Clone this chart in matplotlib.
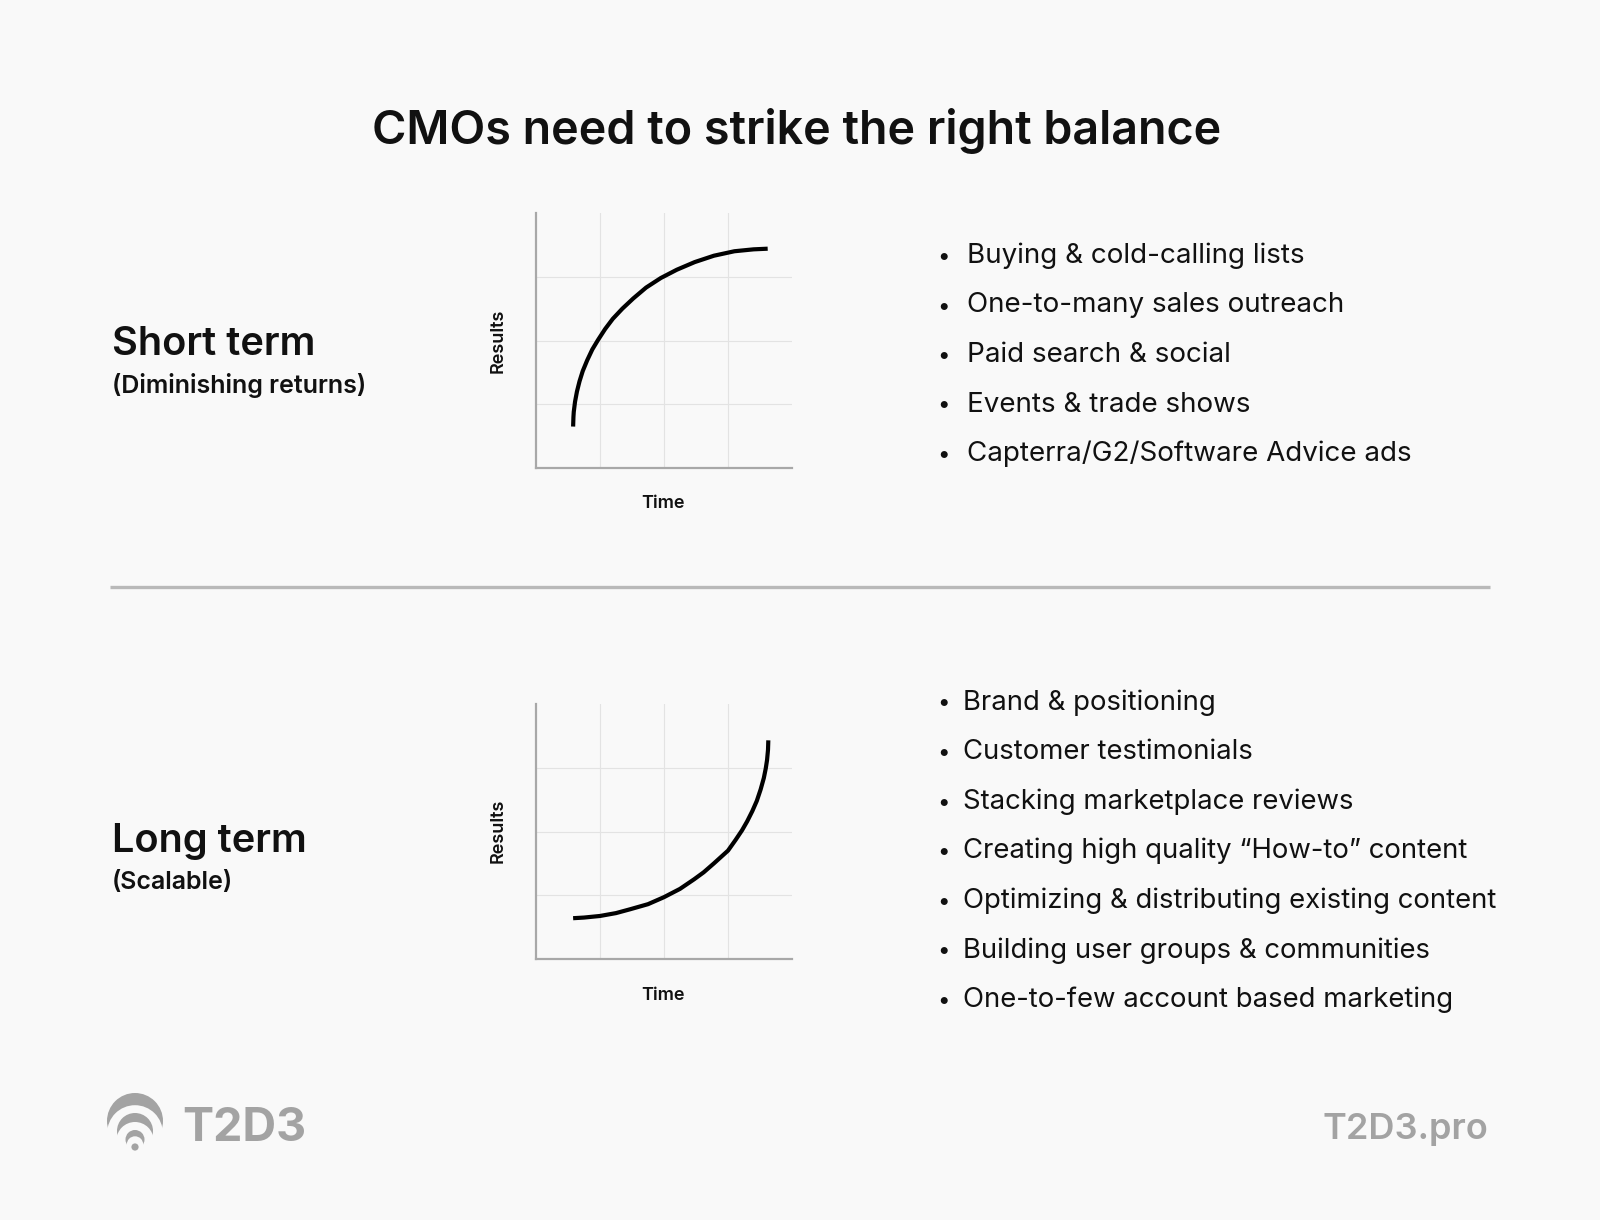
import numpy as np
import matplotlib.pyplot as plt
from matplotlib.patches import Circle

plt.rcParams['font.family'] = ['Inter', 'DejaVu Sans']

BG = '#f9f9f9'
GREY_TXT = '#a3a3a3'
INK = '#111111'

title = "CMOs need to strike the right balance"

# short term curve (diminishing returns)
short_x = [0.58, 0.585, 0.59, 0.61, 0.64, 0.68, 0.73, 0.80, 0.88, 0.97, 1.08,
           1.20, 1.35, 1.52, 1.72, 1.95, 2.20, 2.48, 2.78, 3.10, 3.40, 3.62]
short_y = [0.65, 0.80, 0.88, 1.04, 1.20, 1.36, 1.52, 1.69, 1.86, 2.01, 2.18,
           2.34, 2.50, 2.66, 2.83, 2.98, 3.11, 3.23, 3.33, 3.40, 3.43, 3.44]

# long term curve (scalable)
long_x = [0.58, 0.75, 1.00, 1.25, 1.47, 1.75, 2.00, 2.25, 2.47, 2.62, 2.78,
          3.00, 3.12, 3.22, 3.30, 3.38, 3.45, 3.51, 3.56, 3.59, 3.61, 3.625, 3.63]
long_y = [0.64, 0.65, 0.675, 0.72, 0.78, 0.86, 0.97, 1.10, 1.25, 1.36, 1.50,
          1.70, 1.87, 2.02, 2.16, 2.32, 2.48, 2.66, 2.84, 2.99, 3.12, 3.28, 3.43]

short_items = ["Buying & cold-calling lists",
               "One-to-many sales outreach",
               "Paid search & social",
               "Events & trade shows",
               "Capterra/G2/Software Advice ads"]
long_items = ["Brand & positioning",
              "Customer testimonials",
              "Stacking marketplace reviews",
              "Creating high quality \u201cHow-to\u201d content",
              "Optimizing & distributing existing content",
              "Building user groups & communities",
              "One-to-few account based marketing"]

W, H = 1600, 1220
fig = plt.figure(figsize=(W / 100, H / 100), dpi=100, facecolor=BG)

# overlay axes in pixel units (y down) for text and decoration
bg = fig.add_axes([0, 0, 1, 1])
bg.set_xlim(0, W)
bg.set_ylim(H, 0)
bg.axis('off')
bg.patch.set_alpha(0)

bg.text(797, 143.5, title, ha='center', va='baseline', fontsize=33.6,
        fontweight='semibold', color=INK)

# divider
bg.plot([110, 1490], [587, 587], color='#b9b9b9', lw=2.4, solid_capstyle='butt')


def small_chart(top, x, y):
    ax = fig.add_axes([536 / W, 1 - (top + 255) / H, 256 / W, 255 / H])
    ax.set_facecolor('none')
    ax.set_xlim(0, 4)
    ax.set_ylim(0, 4)
    ax.set_xticks([1, 2, 3])
    ax.set_yticks([1, 2, 3])
    ax.tick_params(length=0, labelleft=False, labelbottom=False)
    ax.grid(True, color='#e3e3e3', lw=0.8)
    for s in ['top', 'right']:
        ax.spines[s].set_visible(False)
    for s in ['left', 'bottom']:
        ax.spines[s].set_color('#a8a8a8')
        ax.spines[s].set_linewidth(1.6)
    ax.plot(x, y, color='black', lw=3.0, solid_capstyle='butt',
            solid_joinstyle='round')
    return ax


small_chart(213, short_x, short_y)
small_chart(704, long_x, long_y)

for yc in [340.5, 831]:
    bg.text(498, yc, "Results", rotation=90, ha='center', va='center',
            fontsize=13, fontweight='semibold', color=INK)
for yc in [504, 995]:
    bg.text(663, yc, "Time", ha='center', va='center',
            fontsize=13, fontweight='semibold', color=INK)

# section labels
bg.text(112, 355, "Short term", ha='left', va='baseline', fontsize=28.6,
        fontweight='semibold', color=INK)
bg.text(112, 393, "(Diminishing returns)", ha='left', va='baseline', fontsize=18,
        fontweight='semibold', color=INK)
bg.text(112, 852, "Long term", ha='left', va='baseline', fontsize=28.6,
        fontweight='semibold', color=INK)
bg.text(112, 889, "(Scalable)", ha='left', va='baseline', fontsize=18,
        fontweight='semibold', color=INK)

# bullet lists
for i, item in enumerate(short_items):
    yb = 263 + i * 49.5
    bg.text(943, yb, "\u2022", ha='center', va='baseline', fontsize=16, color=INK)
    bg.text(967, yb, item, ha='left', va='baseline', fontsize=20, color=INK)
for i, item in enumerate(long_items):
    yb = 709.5 + i * 49.6
    bg.text(943, yb, "\u2022", ha='center', va='baseline', fontsize=16, color=INK)
    bg.text(963, yb, item, ha='left', va='baseline', fontsize=19.8, color=INK)

# footer logo: stacked crescents
logo = [(135, 1121, 28, GREY_TXT), (135, 1133, 27.8, BG),
        (135, 1131, 18, GREY_TXT), (135, 1140.6, 18.6, BG),
        (135, 1139.5, 9.5, GREY_TXT), (135, 1144.5, 8.2, BG),
        (135, 1147, 3.6, GREY_TXT)]
for cx, cy, r, c in logo:
    bg.add_patch(Circle((cx, cy), r, color=c, lw=0))

bg.text(182, 1141, "T2D3", ha='left', va='baseline', fontsize=33.5,
        fontweight='bold', color=GREY_TXT)
bg.text(1488, 1139, "T2D3.pro", ha='right', va='baseline', fontsize=26,
        fontweight='semibold', color=GREY_TXT)

fig.savefig('out.png', dpi=100, facecolor=BG)
